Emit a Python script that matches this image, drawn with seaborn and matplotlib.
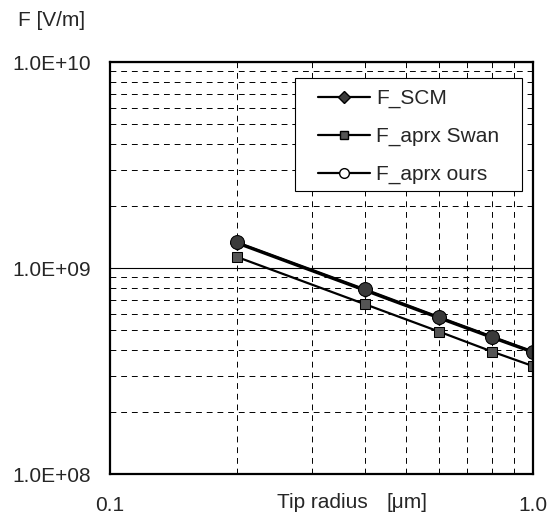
import numpy as np
import pandas as pd
import matplotlib
matplotlib.use("Agg")
import matplotlib.pyplot as plt
from matplotlib.lines import Line2D
from matplotlib.patches import Rectangle
from matplotlib.ticker import FixedLocator, NullFormatter
import seaborn as sns

# Valeurs
tip_radius = [0.2, 0.4, 0.6, 0.8, 1.0]
f_scm = [1.32e9, 7.8e8, 5.72e8, 4.6e8, 3.9e8]
f_swan = [1.13e9, 6.68e8, 4.91e8, 3.93e8, 3.34e8]
f_ours = [1.33e9, 7.88e8, 5.77e8, 4.64e8, 3.93e8]
y_ticks = [1e8, 1e9, 1e10]
y_tick_labels = ["1.0E+08", "1.0E+09", "1.0E+10"]
x_ticks = [0.1, 1.0]
x_tick_labels = ["0.1", "1.0"]

sns.set_style("white")
plt.rcParams["font.family"] = ["Liberation Sans", "DejaVu Sans"]

fig = plt.figure(figsize=(5.52, 5.14), dpi=100)
ax = fig.add_axes([110 / 552, 1 - 474 / 514, 423 / 552, 412 / 514])

dark = "#3a3a3a"
sns.lineplot(x=tip_radius, y=f_scm, ax=ax, color="black", lw=2.2,
             marker="D", markersize=7, markerfacecolor=dark, markeredgecolor="black")
sns.lineplot(x=tip_radius, y=f_swan, ax=ax, color="black", lw=1.6,
             marker="s", markersize=7, markerfacecolor="#555555", markeredgecolor="black")
sns.lineplot(x=tip_radius, y=f_ours, ax=ax, color="black", lw=1.8,
             marker="o", markersize=10, markerfacecolor=dark, markeredgecolor="black")

ax.set_xscale("log")
ax.set_yscale("log")
ax.set_xlim(0.1, 1.0)
ax.set_ylim(1e8, 1e10)

ax.xaxis.set_major_locator(FixedLocator(x_ticks))
ax.xaxis.set_minor_locator(FixedLocator(np.arange(0.2, 1.0, 0.1)))
ax.yaxis.set_major_locator(FixedLocator(y_ticks))
ax.yaxis.set_minor_locator(FixedLocator(
    list(np.arange(2, 10) * 1e8) + list(np.arange(2, 10) * 1e9)))
ax.set_xticklabels(x_tick_labels)
ax.set_yticklabels(y_tick_labels)
ax.xaxis.set_minor_formatter(NullFormatter())
ax.yaxis.set_minor_formatter(NullFormatter())
ax.tick_params(axis="both", which="both", length=0, labelsize=15)
ax.tick_params(axis="x", pad=16)
ax.tick_params(axis="y", pad=14)

ax.grid(True, which="major", axis="y", color="black", lw=0.8)
ax.grid(True, which="minor", axis="both", color="black", lw=0.7, ls=(0, (6, 5)))
for s in ax.spines.values():
    s.set_color("black")
    s.set_linewidth(1.6)

fig.text(18 / 552, 1 - 20 / 514, "F [V/m]", fontsize=15, va="center", ha="left")
fig.text(277 / 552, 1 - 503 / 514, "Tip radius", fontsize=15, va="center", ha="left")
fig.text(386 / 552, 1 - 502 / 514, "[\u03bcm]", fontsize=15, va="center", ha="left")

# cadre de la légende dessiné à part (marges plus larges à gauche/droite)
ax.add_patch(Rectangle((0.437, 0.687), 0.537, 0.274, transform=ax.transAxes,
                       facecolor="white", edgecolor="black", lw=0.8, zorder=4))

handles = [
    Line2D([], [], color="black", lw=1.6, marker="D", markersize=6,
           markerfacecolor=dark, markeredgecolor="black"),
    Line2D([], [], color="black", lw=1.6, marker="s", markersize=6,
           markerfacecolor="#555555", markeredgecolor="black"),
    Line2D([], [], color="black", lw=1.6, marker="o", markersize=7,
           markerfacecolor="white", markeredgecolor="black"),
]
leg = ax.legend(handles, ["F_SCM", "F_aprx Swan", "F_aprx ours"],
                loc="upper left", bbox_to_anchor=(0.492, 0.934),
                fontsize=15, frameon=False, handlelength=2.5,
                labelspacing=0.9, borderpad=0, borderaxespad=0,
                handletextpad=0.3)
leg.set_zorder(5)

fig.savefig("out.png", dpi=100)
